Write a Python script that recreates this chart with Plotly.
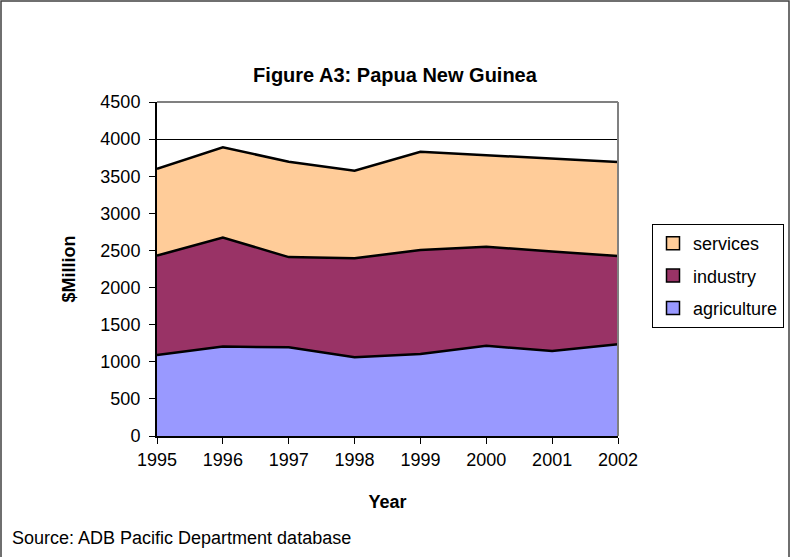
import plotly.graph_objects as go

years = [1995, 1996, 1997, 1998, 1999, 2000, 2001, 2002]
agriculture = [1090, 1205, 1195, 1060, 1105, 1215, 1145, 1235]
industry = [1340, 1470, 1215, 1335, 1400, 1335, 1340, 1190]
services = [1170, 1215, 1285, 1180, 1325, 1230, 1250, 1265]

series = [
    ("agriculture", agriculture, "#9999FF"),
    ("industry", industry, "#993366"),
    ("services", services, "#FFCC99"),
]

FONT = "Liberation Sans, Arial, sans-serif"

# plot area in pixels (790x557 canvas)
L, R, T, B = 157, 172, 102, 121
W, H = 790 - L - R, 557 - T - B


def px_x(p):
    return (p - L) / W


def px_y(p):
    return (557 - B - p) / H


fig = go.Figure()

for name, vals, color in series:
    fig.add_trace(
        go.Scatter(
            x=years,
            y=vals,
            name=name,
            stackgroup="one",
            mode="lines",
            line={"color": "black", "width": 2.5},
            fillcolor=color,
            showlegend=False,
            hoverinfo="x+y+name",
        )
    )

# legend swatches, services on top
for name, vals, color in reversed(series):
    fig.add_trace(
        go.Scatter(
            x=[None],
            y=[None],
            name=name,
            mode="markers",
            marker={"symbol": "square", "size": 13, "color": color,
                    "line": {"color": "black", "width": 1.5}},
            legendgroup=name,
        )
    )

fig.update_xaxes(
    range=[1995, 2002],
    tickmode="array",
    tickvals=years,
    ticktext=[str(y) for y in years],
    ticks="outside",
    ticklen=6,
    tickcolor="black",
    showline=True,
    linecolor="black",
    linewidth=2,
    showgrid=False,
    zeroline=False,
    tickfont={"size": 18, "color": "black", "family": FONT},
    title={"text": "<b>Year</b>", "font": {"size": 18, "color": "black", "family": FONT},
           "standoff": 27},
)

fig.update_yaxes(
    range=[0, 4500],
    dtick=500,
    ticks="outside",
    ticklen=6,
    tickcolor="black",
    ticklabelstandoff=5,
    showline=True,
    linecolor="black",
    linewidth=2,
    showgrid=True,
    gridcolor="black",
    gridwidth=1,
    zeroline=False,
    tickfont={"size": 18, "color": "black", "family": FONT},
    title={"text": "<b>$Million</b>", "font": {"size": 18, "color": "black", "family": FONT},
           "standoff": 20},
)

shapes = [
    # gray top and right edges of the plot area
    dict(type="line", xref="paper", yref="paper", x0=0, x1=1, y0=1, y1=1,
         line={"color": "#808080", "width": 2}, layer="above"),
    dict(type="line", xref="paper", yref="paper", x0=1, x1=1, y0=0, y1=1,
         line={"color": "#808080", "width": 2}, layer="above"),
    # outer chart frame
    dict(type="rect", xref="paper", yref="paper",
         x0=px_x(1), x1=px_x(789), y0=px_y(600), y1=px_y(1),
         line={"color": "#404040", "width": 1.5}, layer="below"),
]

fig.update_layout(
    width=790,
    height=557,
    margin={"l": L, "r": R, "t": T, "b": B, "autoexpand": False},
    paper_bgcolor="white",
    plot_bgcolor="white",
    font={"family": FONT, "color": "black", "size": 18},
    title={
        "text": "<b>Figure A3: Papua New Guinea</b>",
        "x": 0.5,
        "xanchor": "center",
        "y": 1 - 75 / 557,
        "yanchor": "middle",
        "font": {"size": 20, "color": "black", "family": FONT},
    },
    legend={
        "x": px_x(652),
        "y": px_y(224),
        "xanchor": "left",
        "yanchor": "top",
        "bordercolor": "black",
        "borderwidth": 1,
        "bgcolor": "white",
        "font": {"size": 18, "color": "black", "family": FONT},
        "tracegroupgap": 6,
        "itemwidth": 30,
    },
    shapes=shapes,
    annotations=[
        dict(
            text="Source: ADB Pacific Department database",
            xref="paper",
            yref="paper",
            x=px_x(10),
            y=px_y(538),
            xanchor="left",
            yanchor="middle",
            showarrow=False,
            font={"size": 18, "color": "black", "family": FONT},
        )
    ],
)

fig.write_html(
    "out.html",
    config={"displayModeBar": False},
    post_script="document.body.style.margin = '0';",
)
